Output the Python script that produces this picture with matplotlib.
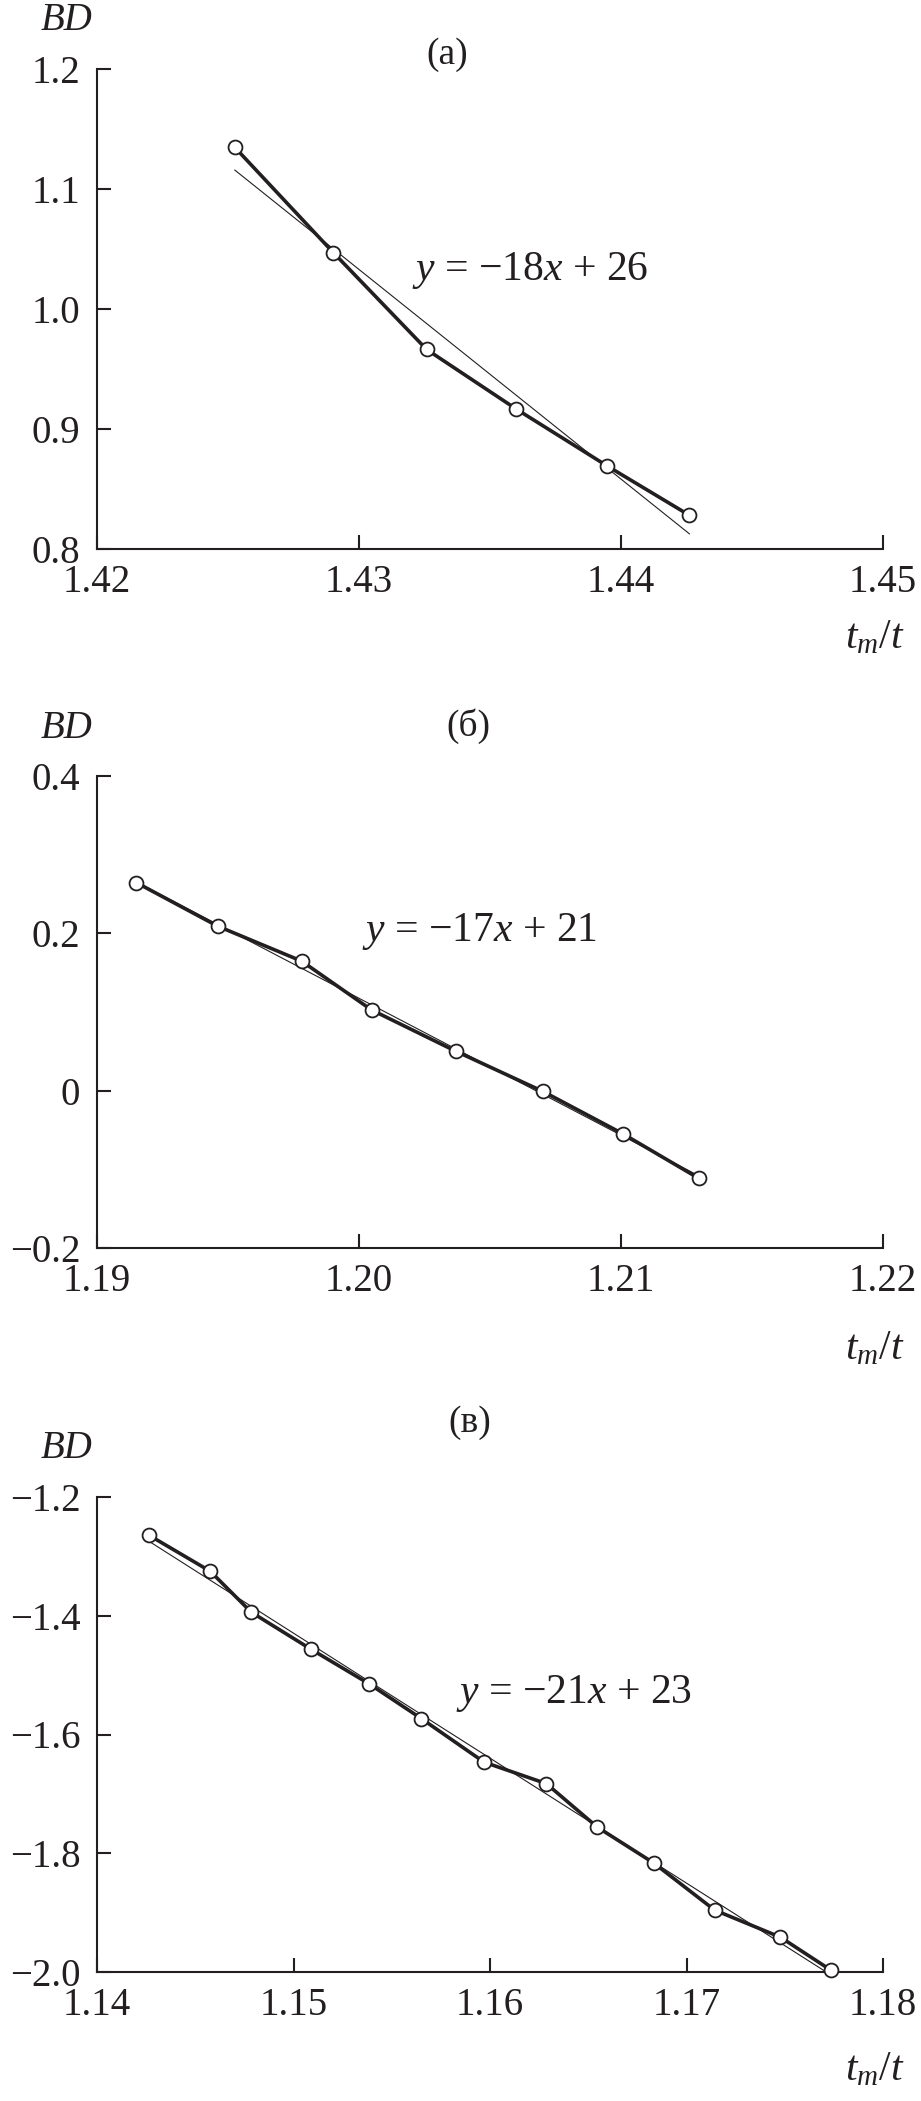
import numpy as np
import matplotlib
matplotlib.use('Agg')
import matplotlib.pyplot as plt

plt.rcParams['font.family'] = 'serif'
plt.rcParams['font.serif'] = ['Liberation Serif', 'DejaVu Serif']
plt.rcParams['mathtext.fontset'] = 'custom'
plt.rcParams['mathtext.rm'] = 'Liberation Serif'
plt.rcParams['mathtext.it'] = 'Liberation Serif:italic'

W, H = 921, 2101
ink = '#231f20'
serif = 'Liberation Serif'

# (a)
x_a = [1.42526, 1.42902, 1.43258, 1.43601, 1.43948, 1.44261]
bd_a = [1.1347, 1.0470, 0.9663, 0.9165, 0.8691, 0.8281]
xt_a = [1.42, 1.43, 1.44, 1.45]
xl_a = ['1.42', '1.43', '1.44', '1.45']
yt_a = [0.8, 0.9, 1.0, 1.1, 1.2]
yl_a = ['0.8', '0.9', '1.0', '1.1', '1.2']
eq_a = r'$y$ = −18$x$ + 26'

# (б)
x_b = [1.19150, 1.19460, 1.19781, 1.20048, 1.20371, 1.20701, 1.21006, 1.21297]
bd_b = [0.2645, 0.2092, 0.1647, 0.1026, 0.0499, -0.0008, -0.0546, -0.1115]
xt_b = [1.19, 1.20, 1.21, 1.22]
xl_b = ['1.19', '1.20', '1.21', '1.22']
yt_b = [-0.2, 0.0, 0.2, 0.4]
yl_b = ['−0.2', '0', '0.2', '0.4']
eq_b = r'$y$ = −17$x$ + 21'

# (в)
x_c = [1.14266, 1.14576, 1.14785, 1.15087, 1.15385, 1.15651, 1.15970,
       1.16287, 1.16546, 1.16833, 1.17143, 1.17478, 1.17737]
bd_c = [-1.2647, -1.3250, -1.3940, -1.4560, -1.5147, -1.5733, -1.6466,
        -1.6828, -1.7560, -1.8164, -1.8957, -1.9414, -1.9974]
xt_c = [1.14, 1.15, 1.16, 1.17, 1.18]
xl_c = ['1.14', '1.15', '1.16', '1.17', '1.18']
yt_c = [-2.0, -1.8, -1.6, -1.4, -1.2]
yl_c = ['−2.0', '−1.8', '−1.6', '−1.4', '−1.2']
eq_c = r'$y$ = −21$x$ + 23'

fig = plt.figure(figsize=(W / 100, H / 100), dpi=100)


def fx(px):
    return px / W


def fy(px):
    return 1 - px / H


def panel(top, bottom, x, y, xt, xl, yt, yl, tag, tag_xy, eq, eq_xy, lab_y):
    left, right = 97, 883
    ax = fig.add_axes([fx(left), fy(bottom), (right - left) / W, (bottom - top) / H])
    k, c = np.polyfit(x, y, 1)
    xs = np.array([min(x), max(x)])
    ax.plot(xs, k * xs + c, color=ink, lw=0.8, clip_on=False)
    ax.plot(x, y, color=ink, lw=2.6, marker='o', ms=10, mfc='white',
            mec=ink, mew=1.3, clip_on=False, zorder=3)
    ax.set_xlim(xt[0], xt[-1])
    ax.set_ylim(yt[0], yt[-1])
    ax.set_xticks(xt, xl, family=serif)
    ax.set_yticks(yt, yl, family=serif)
    for s in ['top', 'right']:
        ax.spines[s].set_visible(False)
    for s in ['left', 'bottom']:
        ax.spines[s].set_linewidth(1.5)
        ax.spines[s].set_color(ink)
    ax.tick_params(direction='in', length=10, width=1.5, colors=ink, labelsize=28)
    ax.tick_params(axis='x', pad=11)
    ax.tick_params(axis='y', pad=12)
    fig.text(fx(67), fy(top - 48), 'BD', style='italic', fontsize=28, family=serif,
             ha='center', va='center', color=ink)
    fig.text(fx(tag_xy[0]), fy(tag_xy[1]), tag, fontsize=27, family=serif,
             ha='center', va='center', color=ink)
    fig.text(fx(eq_xy[0]), fy(eq_xy[1]), eq, fontsize=30, family=serif,
             ha='left', va='center', color=ink)
    fig.text(fx(905), fy(lab_y), r'$t_m/t$', fontsize=30, family=serif,
             ha='right', va='center', color=ink)
    return ax


panel(69, 549, x_a, bd_a, xt_a, xl_a, yt_a, yl_a, '(a)', (447, 55), eq_a, (412, 270), 638)
panel(776, 1248, x_b, bd_b, xt_b, xl_b, yt_b, yl_b, '(б)', (468, 726), eq_b, (362, 932), 1349)
panel(1497, 1972, x_c, bd_c, xt_c, xl_c, yt_c, yl_c, '(в)', (470, 1423), eq_c, (456, 1694), 2070)

fig.savefig('out.png', dpi=100)
